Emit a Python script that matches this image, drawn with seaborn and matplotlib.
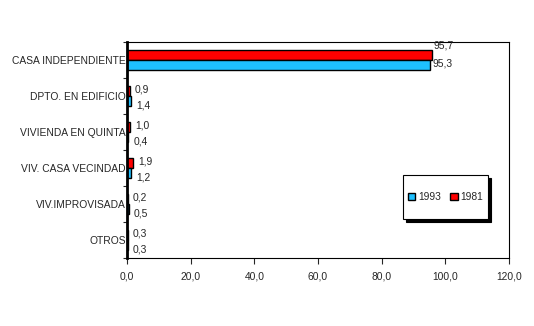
import matplotlib
matplotlib.use("Agg")
import matplotlib.pyplot as plt
import seaborn as sns
import pandas as pd
from matplotlib.patches import Patch, Rectangle

categories = ["CASA INDEPENDIENTE", "DPTO. EN EDIFICIO", "VIVIENDA EN QUINTA",
              "VIV. CASA VECINDAD", "VIV.IMPROVISADA", "OTROS"]
v1993 = [95.3, 1.4, 0.4, 1.2, 0.5, 0.3]
v1981 = [95.7, 0.9, 1.0, 1.9, 0.2, 0.3]
years = ["1981", "1993"]
xticks = [0, 20, 40, 60, 80, 100, 120]

df = pd.DataFrame({
    "cat": categories * 2,
    "year": ["1981"] * len(categories) + ["1993"] * len(categories),
    "val": v1981 + v1993,
})

sns.set_style("white")
plt.rcParams["font.family"] = ["Liberation Sans", "DejaVu Sans"]
FS = 7.4

fig = plt.figure(figsize=(5.34, 3.26), dpi=100)
ax = fig.add_axes([127/534, 1-258/326, (509-127)/534, (258-42)/326])

colors = {"1981": "#FF0000", "1993": "#1EC0FF"}
sns.barplot(data=df, y="cat", x="val", hue="year", hue_order=years,
            palette=colors, orient="h", width=0.54, edgecolor="black",
            linewidth=1.0, ax=ax, legend=False, saturation=1)

ax.set_xlim(0, 120)
ax.set_ylim(len(categories) - 0.5, -0.5)
ax.set_xticks(xticks)
ax.set_xticklabels([f"{t:.1f}".replace(".", ",") for t in xticks], fontsize=FS)
ax.set_yticks(range(len(categories)))
ax.set_yticklabels(categories, fontsize=FS)
ax.tick_params(axis="y", length=0, pad=1)
ax.tick_params(axis="x", length=4, width=0.8, direction="out", pad=6, bottom=True)
ax.set_yticks([i - 0.5 for i in range(len(categories) + 1)], minor=True)
ax.tick_params(axis="y", which="minor", length=3, width=0.8, direction="out", left=True)
ax.set_xlabel("")
ax.set_ylabel("")
for s in ["top", "right", "bottom"]:
    ax.spines[s].set_visible(True)
    ax.spines[s].set_color("black")
    ax.spines[s].set_linewidth(0.8)
ax.spines["left"].set_visible(True)
ax.spines["left"].set_color("black")
ax.spines["left"].set_linewidth(2)

# value labels (offsets in pixels relative to group centre)
for i in range(len(categories)):
    a = v1981[i]
    b = v1993[i]
    big = max(a, b) > 50
    dx = 2 if big else 5
    dy_a, dy_b = (14, -3) if big else (6, -9)
    ax.annotate(f"{a:.1f}".replace(".", ","), xy=(a, i), xytext=(dx, dy_a),
                textcoords="offset pixels", fontsize=FS, va="center", ha="left")
    ax.annotate(f"{b:.1f}".replace(".", ","), xy=(b, i), xytext=(dx, dy_b),
                textcoords="offset pixels", fontsize=FS, va="center", ha="left")

# legend box with hard shadow
bx0, by0, bw, bh = (403-127)/382, (258-219)/216, 85/382, 44/216
ax.add_patch(Rectangle((bx0 + 3/382, by0 - 3/216), bw, bh, transform=ax.transAxes,
                       facecolor="black", edgecolor="black", lw=0.8, zorder=4))
ax.add_patch(Rectangle((bx0, by0), bw, bh, transform=ax.transAxes,
                       facecolor="white", edgecolor="black", lw=0.8, zorder=5))
handles = [Patch(facecolor=colors["1993"], edgecolor="black", label="1993"),
           Patch(facecolor=colors["1981"], edgecolor="black", label="1981")]
leg = ax.legend(handles=handles, loc="center", bbox_to_anchor=(bx0 + bw/2, by0 + bh/2),
                ncol=2, fontsize=FS, frameon=False,
                handlelength=0.75, handleheight=0.75, handletextpad=0.25,
                columnspacing=0.9, borderpad=0)
leg.set_zorder(6)

fig.savefig("out.png", dpi=100, facecolor="white")
